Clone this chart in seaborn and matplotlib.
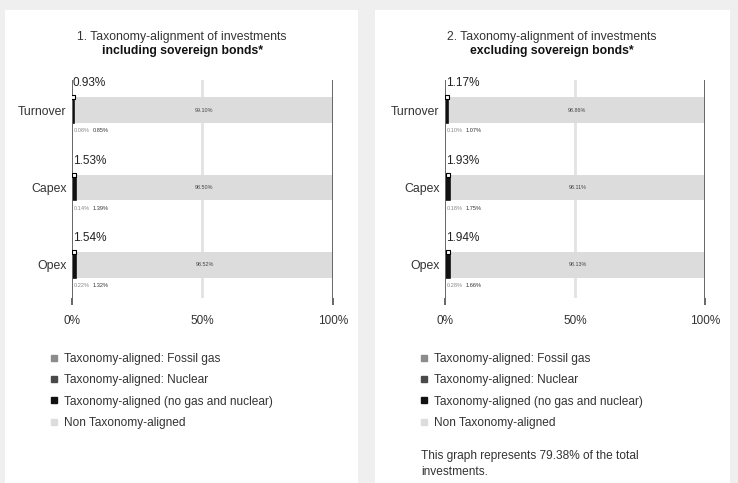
import numpy as np
import pandas as pd
import seaborn as sns
import matplotlib.pyplot as plt
from matplotlib.lines import Line2D
from matplotlib.patches import Rectangle

categories = ["Turnover", "Capex", "Opex"]

# 1. including sovereign bonds
incl_gas = [0.00, 0.00, 0.00]
incl_nuclear = [0.08, 0.14, 0.22]
incl_aligned = [0.85, 1.39, 1.32]
incl_non = [99.10, 98.50, 98.52]

# 2. excluding sovereign bonds
excl_gas = [0.00, 0.00, 0.00]
excl_nuclear = [0.10, 0.18, 0.28]
excl_aligned = [1.07, 1.75, 1.66]
excl_non = [98.86, 98.11, 98.13]

xticks = [0, 50, 100]
xtick_labels = ["0%", "50%", "100%"]
legend_labels = ["Taxonomy-aligned: Fossil gas",
                 "Taxonomy-aligned: Nuclear",
                 "Taxonomy-aligned (no gas and nuclear)",
                 "Non Taxonomy-aligned"]
titles = ["1. Taxonomy-alignment of investments",
          "2. Taxonomy-alignment of investments"]
subtitles = ["including sovereign bonds*", "excluding sovereign bonds*"]
note = "This graph represents 79.38% of the total\ninvestments."

col_gas = "#8c8c8c"
col_nuclear = "#4a4a4a"
col_aligned = "#111111"
col_non = "#dcdcdc"
txt = "#333333"

sns.set_style("white")
plt.rcParams['font.family'] = ['Liberation Sans', 'DejaVu Sans']

W, H = 738, 483
fig = plt.figure(figsize=(W / 100, H / 100), dpi=100)
fig.patch.set_facecolor("#efefef")

# white panels behind everything
for x0, x1 in [(5, 358), (375, 730)]:
    fig.patches.append(Rectangle((x0 / W, 0), (x1 - x0) / W, (H - 10) / H,
                                 transform=fig.transFigure, facecolor="white",
                                 edgecolor="none", zorder=-5))

bar_w = 0.335


def draw_panel(ax, gas, nuclear, aligned, non):
    df = pd.DataFrame({"cat": categories, "gas": gas, "nuclear": nuclear,
                       "aligned": aligned, "non": non})
    cum = df[["gas", "nuclear", "aligned", "non"]].cumsum(axis=1)
    total = df["gas"] + df["nuclear"] + df["aligned"]
    for key, col, lw in [("non", col_non, 0), ("aligned", col_aligned, 1.2),
                         ("nuclear", col_nuclear, 0), ("gas", col_gas, 0)]:
        sns.barplot(x=cum[key], y=df["cat"], orient="h", order=categories,
                    color=col, saturation=1, width=bar_w, errorbar=None,
                    linewidth=lw, edgecolor=col, ax=ax)

    for i in range(len(categories)):
        ax.text(0.3, i - bar_w / 2 - 0.1, f"{total[i]:.2f}%", ha="left",
                va="bottom", fontsize=8.5, color="#222222")
        ax.text(0.8, i + bar_w / 2 + 0.1, f"{df['nuclear'][i]:.2f}%",
                ha="left", va="center", fontsize=4.1, color="#888888")
        ax.text(8.0, i + bar_w / 2 + 0.1, f"{df['aligned'][i]:.2f}%",
                ha="left", va="center", fontsize=4.1, color="#333333")
        ax.text((total[i] + 100) / 2, i, f"{df['non'][i]:.2f}%",
                ha="center", va="center", fontsize=3.9, color="#444444")
    ax.scatter(total / 2, np.arange(len(categories)) - bar_w / 2, marker="s",
               s=7, facecolor="white", edgecolor="black", linewidth=0.8,
               zorder=5)

    ax.axvline(50, color="#e2e2e2", lw=2, zorder=0.5)
    ax.axvline(0, color="#666666", lw=1.4, zorder=4)
    ax.axvline(100, color="#666666", lw=1.4, zorder=4)

    ax.set_xlim(0, 100)
    ax.set_ylim(2.43, -0.39)
    ax.set_xticks(xticks)
    ax.set_xticklabels(xtick_labels)
    ax.tick_params(axis="x", length=5, width=1.4, color="#666666", pad=7,
                   labelsize=8.5, labelcolor=txt, bottom=True)
    ax.xaxis.get_major_ticks()[1].tick1line.set_visible(False)
    ax.tick_params(axis="y", length=0, pad=4, labelsize=8.8, labelcolor=txt)
    ax.set_xlabel("")
    ax.set_ylabel("")
    ax.set_facecolor("none")
    sns.despine(ax=ax, left=True, bottom=True)


panels = [
    (72, 333, 182, (incl_gas, incl_nuclear, incl_aligned, incl_non)),
    (445, 705, 552, (excl_gas, excl_nuclear, excl_aligned, excl_non)),
]
bottom_px, top_px = 298, 80
for k, (x0, x1, tx, vals) in enumerate(panels):
    ax = fig.add_axes([x0 / W, 1 - bottom_px / H, (x1 - x0) / W,
                       (bottom_px - top_px) / H])
    draw_panel(ax, *vals)
    fig.text(tx / W, 1 - 37 / H, titles[k], ha="center", va="center",
             fontsize=8.8, color=txt)
    fig.text(tx / W, 1 - 51 / H, subtitles[k], ha="center", va="center",
             fontsize=8.8, fontweight="bold", color="#111111")

    handles = [Line2D([], [], marker="s", ls="", color=c, markersize=4.5)
               for c in [col_gas, col_nuclear, col_aligned, col_non]]
    off = 0 if k == 0 else 370
    fig.legend(handles, legend_labels, loc="upper left",
               bbox_to_anchor=((44 + off) / W, 1 - 347 / H),
               frameon=False, fontsize=8.6, labelcolor=txt, borderpad=0,
               handlelength=0.6, handletextpad=0.55, labelspacing=0.78)

fig.text(421 / W, 1 - 464 / H, note, ha="left", va="center", fontsize=8.6,
         color=txt, linespacing=1.5)

fig.savefig("out.png", dpi=100, facecolor=fig.get_facecolor())
